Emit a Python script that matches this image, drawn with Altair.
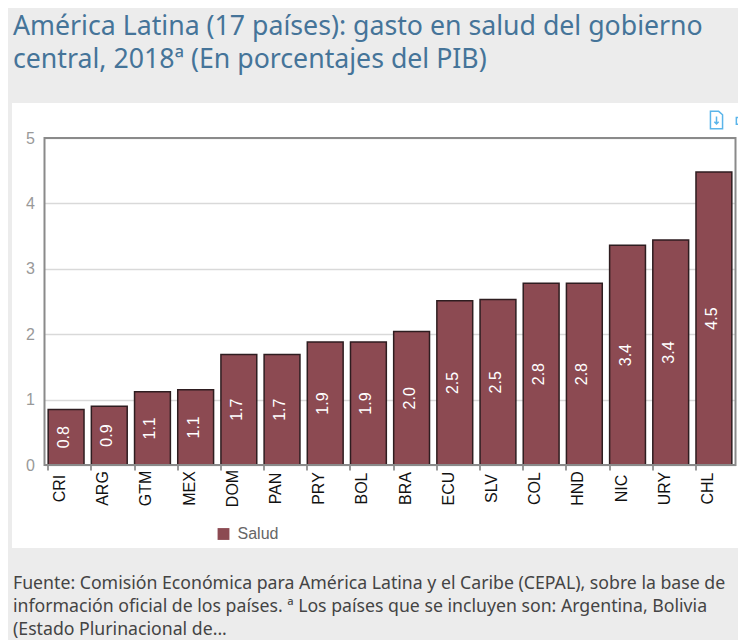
import altair as alt
import pandas as pd

countries = ["CRI","ARG","GTM","MEX","DOM","PAN","PRY","BOL","BRA","ECU","SLV","COL","HND","NIC","URY","CHL"]
values = [0.85,0.90,1.12,1.15,1.69,1.69,1.88,1.88,2.04,2.51,2.53,2.78,2.78,3.36,3.44,4.48]
labels = ["0.8","0.9","1.1","1.1","1.7","1.7","1.9","1.9","2.0","2.5","2.5","2.8","2.8","3.4","3.4","4.5"]
title_lines = ["América Latina (17 países): gasto en salud del gobierno", "central, 2018ª (En porcentajes del PIB)"]
foot_lines = ["Fuente: Comisión Económica para América Latina y el Caribe (CEPAL), sobre la base de",
              "información oficial de los países. ª Los países que se incluyen son: Argentina, Bolivia",
              "(Estado Plurinacional de..."]

OX, OY = 36.5, 130
W, H = 691, 327
TOTAL_W, TOTAL_H = 730, 632
GREY = "#ececec"
df = pd.DataFrame({"pais": countries, "valor": values, "etq": labels, "serie": ["Salud"] * len(countries)})
one = pd.DataFrame({"a": [0]})

def px(v):
    return alt.value(v - 8 - OX)

def py(v):
    return alt.value(v - 8 - OY)

def grey_band(x0, x1, y0, y1):
    return alt.Chart(one).mark_rect(color=GREY, clip=False).encode(x=px(x0), x2=px(x1), y=py(y0), y2=py(y1))

bands = [grey_band(8, 746, 8, 103), grey_band(8, 746, 548, 640), grey_band(8, 12, 103, 548)]

x = alt.X("pais:N", sort=countries, title=None,
          scale=alt.Scale(paddingInner=0.17, paddingOuter=0.085),
          axis=alt.Axis(bandPosition=0, labelAngle=-90, labelColor="#111", labelFont="Liberation Sans",
                        labelFontSize=16, labelPadding=18, labelAlign="center", labelBaseline="middle",
                        labelOffset=-6, tickColor="#999", tickSize=5, tickWidth=2, domain=False, grid=False))
y = alt.Y("valor:Q", title=None, scale=alt.Scale(domain=[0, 5]),
          axis=alt.Axis(values=[0,1,2,3,4,5], format="d", labelColor="#999", labelFont="Liberation Sans",
                        labelFontSize=16, labelPadding=10, tickSize=0, domain=False,
                        gridColor="#d9d9d9", gridWidth=1.5))

bars = alt.Chart(df).mark_bar(stroke="#2e1d20", strokeWidth=1.5).encode(
    x=x, y=y,
    color=alt.Color("serie:N", title=None,
                    scale=alt.Scale(domain=["Salud"], range=["#8c4a52"]),
                    legend=alt.Legend(orient="none", legendX=171, legendY=388, symbolType="square",
                                      symbolSize=140, symbolStrokeWidth=0, labelFont="Liberation Sans",
                                      labelFontSize=16, labelColor="#666", labelOffset=6)))

text = alt.Chart(df).transform_calculate(mid="datum.valor/2").mark_text(
    angle=270, color="white", font="Liberation Sans", fontSize=16, align="center", baseline="middle", dy=-2
).encode(x=alt.X("pais:N", sort=countries), y=alt.Y("mid:Q"), text="etq:N")

frame = alt.Chart(one).mark_rect(fill=None, stroke="#8a8a8a", strokeWidth=2).encode(
    x=alt.value(0), x2=alt.value(W), y=alt.value(0), y2=alt.value(H))

title_layers = [
    alt.Chart(one).mark_text(align="left", baseline="middle", font="Noto Sans", fontSize=26.7,
                             color="#457499", clip=False).encode(
        x=px(13), y=py(yy), text=alt.value(line))
    for line, yy in zip(title_lines, [27, 60])
]
foot_layers = [
    alt.Chart(one).mark_text(align="left", baseline="middle", font="Noto Sans", fontSize=17.7,
                             color="#444", clip=False).encode(
        x=px(13), y=py(yy), text=alt.value(line))
    for line, yy in zip(foot_lines, [584, 607, 630])
]

doc_shape = "M-0.7,-1 L0.25,-1 L0.7,-0.6 L0.7,1 L-0.7,1 Z M0,-0.4 L0,0.4 M-0.25,0.2 L0,0.45 L0.25,0.2"
prn_shape = "M-1,-0.3 L1,-0.3 L1,0.5 L-1,0.5 Z M-0.5,-0.3 L-0.5,-0.9 L0.5,-0.9 L0.5,-0.3 M-0.5,0.2 L-0.5,1 L0.5,1 L0.5,0.2"
icon1 = alt.Chart(one).mark_point(shape=doc_shape, size=300, stroke="#5bb5ea", strokeWidth=1.5,
                                  filled=False, opacity=1, clip=False).encode(x=px(716.5), y=py(120))
icon2 = alt.Chart(one).mark_point(shape=prn_shape, size=300, stroke="#5bb5ea", strokeWidth=1.5,
                                  filled=False, opacity=1, clip=False).encode(x=px(745), y=py(120))

chart = alt.layer(*bands, bars, text, frame, *title_layers, *foot_layers, icon1, icon2).properties(
    width=W, height=H, background="white",
    padding={"left": OX, "top": OY, "right": TOTAL_W - OX - W, "bottom": TOTAL_H - OY - H},
    autosize=alt.AutoSizeParams(type="none", contains="content"),
).configure_view(stroke=None)

chart.save("out.html", embed_options={"renderer": "svg", "actions": False})
